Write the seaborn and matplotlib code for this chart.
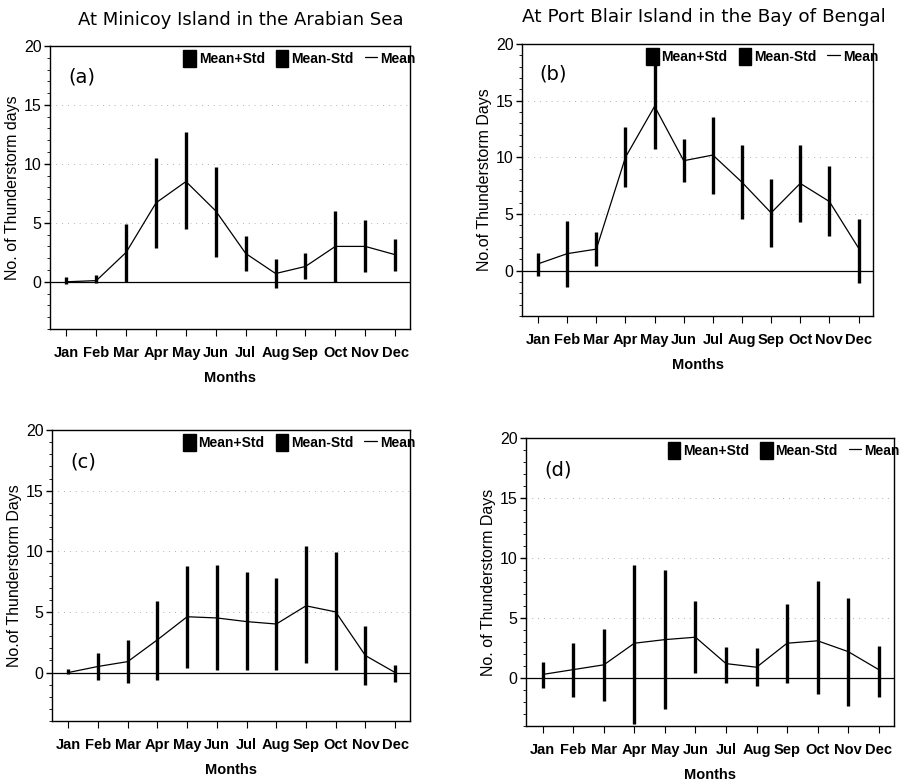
import numpy as np
import pandas as pd
import matplotlib
matplotlib.use("Agg")
import matplotlib.pyplot as plt
from matplotlib.patches import Patch
from matplotlib.lines import Line2D
from matplotlib.ticker import MultipleLocator
import seaborn as sns

# Datos
months = ["Jan", "Feb", "Mar", "Apr", "May", "Jun",
          "Jul", "Aug", "Sep", "Oct", "Nov", "Dec"]

mean_a = [0.0, 0.1, 2.5, 6.7, 8.5, 6.0, 2.4, 0.7, 1.3, 3.0, 3.0, 2.3]
upper_a = [0.4, 0.6, 4.9, 10.5, 12.7, 9.7, 3.9, 1.9, 2.4, 6.0, 5.2, 3.6]
lower_a = [-0.2, -0.1, 0.0, 2.9, 4.5, 2.1, 0.9, -0.5, 0.2, 0.0, 0.8, 0.9]

mean_b = [0.6, 1.5, 1.9, 10.0, 14.5, 9.7, 10.2, 7.8, 5.1, 7.7, 6.1, 2.0]
upper_b = [1.6, 4.4, 3.4, 12.7, 18.3, 11.6, 13.6, 11.1, 8.1, 11.1, 9.2, 4.6]
lower_b = [-0.5, -1.4, 0.4, 7.4, 10.7, 7.8, 6.8, 4.6, 2.1, 4.3, 3.1, -1.1]

mean_c = [0.0, 0.5, 0.9, 2.7, 4.6, 4.5, 4.2, 4.0, 5.5, 5.0, 1.4, 0.0]
upper_c = [0.3, 1.6, 2.7, 5.9, 8.8, 8.9, 8.3, 7.8, 10.4, 9.9, 3.8, 0.6]
lower_c = [-0.1, -0.6, -0.9, -0.6, 0.4, 0.2, 0.2, 0.2, 0.8, 0.2, -1.0, -0.8]

mean_d = [0.3, 0.7, 1.1, 2.9, 3.2, 3.4, 1.2, 0.9, 2.9, 3.1, 2.2, 0.7]
upper_d = [1.3, 2.9, 4.1, 9.4, 9.0, 6.4, 2.6, 2.5, 6.2, 8.1, 6.7, 2.7]
lower_d = [-0.8, -1.6, -1.9, -3.8, -2.6, 0.4, -0.4, -0.7, -0.4, -1.3, -2.3, -1.6]

sns.set_style("ticks")
plt.rcParams["font.family"] = ["Liberation Sans", "DejaVu Sans"]
plt.rcParams["text.color"] = "black"
plt.rcParams["axes.labelcolor"] = "black"
plt.rcParams["xtick.color"] = "black"
plt.rcParams["ytick.color"] = "black"

fig = plt.figure(figsize=(9.01, 7.81), dpi=100)

panels = [
    ("(a)", "No. of Thunderstorm days", mean_a, upper_a, lower_a, [0.0555, 0.5788, 0.3996, 0.3624]),
    ("(b)", "No.of Thunderstorm Days", mean_b, upper_b, lower_b, [0.5794, 0.5954, 0.3896, 0.3483]),
    ("(c)", "No.of Thunderstorm Days", mean_c, upper_c, lower_c, [0.0577, 0.0768, 0.3973, 0.3726]),
    ("(d)", "No. of Thunderstorm Days", mean_d, upper_d, lower_d, [0.5838, 0.0704, 0.4084, 0.3688]),
]

for label, ylab, mean, upper, lower, pos in panels:
    ax = fig.add_axes(pos)
    df = pd.DataFrame({"x": np.arange(len(months)), "mean": mean,
                       "upper": upper, "lower": lower})

    # grilla punteada tenue
    for yv in [5, 10, 15]:
        ax.axhline(yv, color="0.6", lw=0.6, ls=(0, (1, 6)), zorder=0)
    ax.axhline(0, color="black", lw=0.9, zorder=1)

    ax.vlines(df["x"], df["lower"], df["upper"], color="black", lw=2.4, zorder=2)
    sns.lineplot(data=df, x="x", y="mean", ax=ax, color="black", lw=0.9, zorder=3)

    ax.set_xlim(-0.55, 11.5)
    ax.set_ylim(-4, 20)
    ax.set_xticks(df["x"])
    ax.set_xticklabels(months, fontsize=10.5, fontweight="bold")
    ax.set_yticks([0, 5, 10, 15, 20])
    ax.yaxis.set_minor_locator(MultipleLocator(1))
    ax.tick_params(axis="y", labelsize=11.5, length=4, width=1, pad=2)
    ax.tick_params(axis="y", which="minor", length=2)
    ax.tick_params(axis="x", length=5, pad=7)
    ax.set_xlabel("Months", fontsize=10.5, fontweight="bold", labelpad=8)
    ax.set_ylabel(ylab, fontsize=11.5, labelpad=3)
    for s in ax.spines.values():
        s.set_color("black")
        s.set_linewidth(1.0)

    ax.text(0.05, 0.89, label, transform=ax.transAxes, fontsize=14,
            family=["DejaVu Sans"], va="center")

    handles = [Patch(facecolor="black", edgecolor="black"),
               Patch(facecolor="black", edgecolor="black"),
               Line2D([], [], color="black", lw=0.9)]
    ax.legend(handles, ["Mean+Std", "Mean-Std", "Mean"], loc="upper right",
              bbox_to_anchor=(1.03, 1.005), ncol=3, frameon=False,
              prop={"weight": "bold", "size": 10},
              handlelength=0.9, handleheight=1.5, handletextpad=0.2,
              columnspacing=0.8, borderaxespad=0)

fig.text(0.087, 0.974, "At Minicoy Island in the Arabian Sea", fontsize=13,
         family=["DejaVu Sans"], va="center", ha="left")
fig.text(0.579, 0.978, "At Port Blair Island in the Bay of Bengal", fontsize=13.3,
         family=["DejaVu Sans"], va="center", ha="left")

fig.savefig("out.png", dpi=100)
